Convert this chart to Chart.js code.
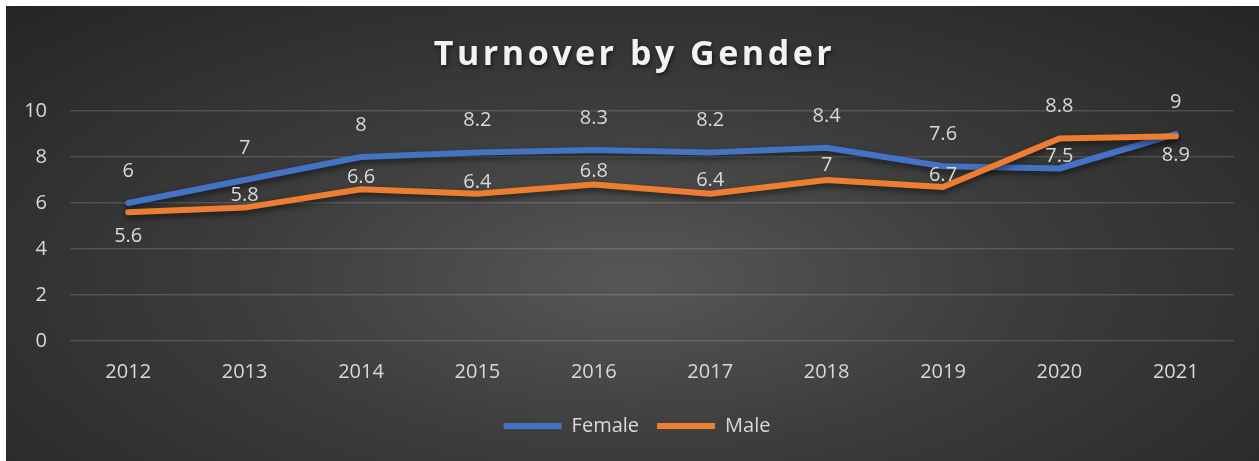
<!DOCTYPE html>
<html>
<head>
<meta charset="utf-8">
<script src="https://cdn.jsdelivr.net/npm/chart.js@4"></script>
<style>
  html, body { margin: 0; padding: 0; background: #ffffff; }
  #wrap {
    position: absolute;
    left: 6px; top: 6px;
    width: 1253px; height: 455px;
    background: radial-gradient(ellipse farthest-corner at 50% 60%, #575757 0%, #3c3c3c 45%, #252525 100%);
  }
</style>
</head>
<body>
<div id="wrap"><canvas id="turnoverChart"></canvas></div>
<script>
const years = ['2012', '2013', '2014', '2015', '2016', '2017', '2018', '2019', '2020', '2021'];
const femaleTurnover = [6, 7, 8, 8.2, 8.3, 8.2, 8.4, 7.6, 7.5, 9];
const maleTurnover = [5.6, 5.8, 6.6, 6.4, 6.8, 6.4, 7, 6.7, 8.8, 8.9];
const yMin = 0, yMax = 10, yStep = 2;

// where each value label sits relative to its point (px, negative = up)
const femaleLabelShift = [-32, -32, -32, -32, -32, -32, -32, -32, -12, -32];
const maleLabelShift = [24, -12, -12, -12, -13, -14, -15, -12, -32, 19];

const textColor = '#d9d9d9';
const fontFamily = '"Open Sans", "Noto Sans", sans-serif';

// soft shadow under the lines
const lineShadow = {
    id: 'lineShadow',
    beforeDatasetDraw(chart) {
        const ctx = chart.ctx;
        ctx.save();
        ctx.shadowColor = 'rgba(0, 0, 0, 0.55)';
        ctx.shadowBlur = 6;
        ctx.shadowOffsetY = 3;
    },
    afterDatasetDraw(chart) {
        chart.ctx.restore();
    }
};

// value labels + title, and nudge the legend to the plot's centre
const decorations = {
    id: 'decorations',
    afterLayout(chart) {
        if (chart.legend) {
            chart.legend.left += 17;
            chart.legend.right += 17;
        }
    },
    afterDatasetsDraw(chart) {
        const ctx = chart.ctx;
        ctx.save();
        ctx.font = '20px ' + fontFamily;
        ctx.fillStyle = textColor;
        ctx.textAlign = 'center';
        ctx.textBaseline = 'middle';
        chart.data.datasets.forEach((ds, i) => {
            const meta = chart.getDatasetMeta(i);
            meta.data.forEach((pt, j) => {
                ctx.fillText(String(ds.data[j]), pt.x, pt.y + ds.labelShift[j]);
            });
        });
        ctx.restore();
    },
    afterDraw(chart) {
        const ctx = chart.ctx;
        ctx.save();
        ctx.font = 'bold 34px ' + fontFamily;
        ctx.letterSpacing = '3.5px';
        ctx.fillStyle = '#f2f2f2';
        ctx.textAlign = 'center';
        ctx.textBaseline = 'alphabetic';
        ctx.shadowColor = 'rgba(0, 0, 0, 0.6)';
        ctx.shadowBlur = 4;
        ctx.shadowOffsetX = 1;
        ctx.shadowOffsetY = 2;
        ctx.fillText('Turnover by Gender', chart.width / 2 + 2, 59);
        ctx.restore();
    }
};

const ctx = document.getElementById('turnoverChart').getContext('2d');
new Chart(ctx, {
    type: 'line',
    data: {
        labels: years,
        datasets: [{
            label: 'Female',
            data: femaleTurnover,
            labelShift: femaleLabelShift,
            borderColor: '#4472c4',
            backgroundColor: '#4472c4',
            order: 1
        }, {
            label: 'Male',
            data: maleTurnover,
            labelShift: maleLabelShift,
            borderColor: '#ed7d31',
            backgroundColor: '#ed7d31',
            order: 0
        }]
    },
    options: {
        responsive: true,
        maintainAspectRatio: false,
        animation: false,
        datasets: {
            line: {
                borderWidth: 6,
                borderCapStyle: 'round',
                borderJoinStyle: 'round',
                pointRadius: 0,
                pointHoverRadius: 0,
                tension: 0,
                clip: false
            }
        },
        layout: {
            padding: { left: 0, right: 25, top: 105, bottom: 15 }
        },
        scales: {
            x: {
                offset: true,
                grid: { display: false, drawTicks: false },
                border: { display: false },
                ticks: {
                    color: textColor,
                    font: { family: fontFamily, size: 20 },
                    padding: 19,
                    maxRotation: 0
                },
                afterFit(scale) { scale.height = 57; }
            },
            y: {
                min: yMin,
                max: yMax,
                grid: { color: 'rgba(255, 255, 255, 0.14)', lineWidth: 1.5, drawTicks: false },
                border: { display: false },
                ticks: {
                    stepSize: yStep,
                    color: textColor,
                    font: { family: fontFamily, size: 20 },
                    padding: 23
                },
                afterFit(scale) { scale.width = 64; }
            }
        },
        plugins: {
            legend: {
                position: 'bottom',
                labels: {
                    color: textColor,
                    font: { family: fontFamily, size: 20 },
                    usePointStyle: true,
                    pointStyle: 'line',
                    pointStyleWidth: 58,
                    padding: 18,
                    sort: (a, b) => a.datasetIndex - b.datasetIndex
                }
            },
            title: { display: false },
            tooltip: { enabled: false }
        }
    },
    plugins: [lineShadow, decorations]
});
</script>
</body>
</html>
